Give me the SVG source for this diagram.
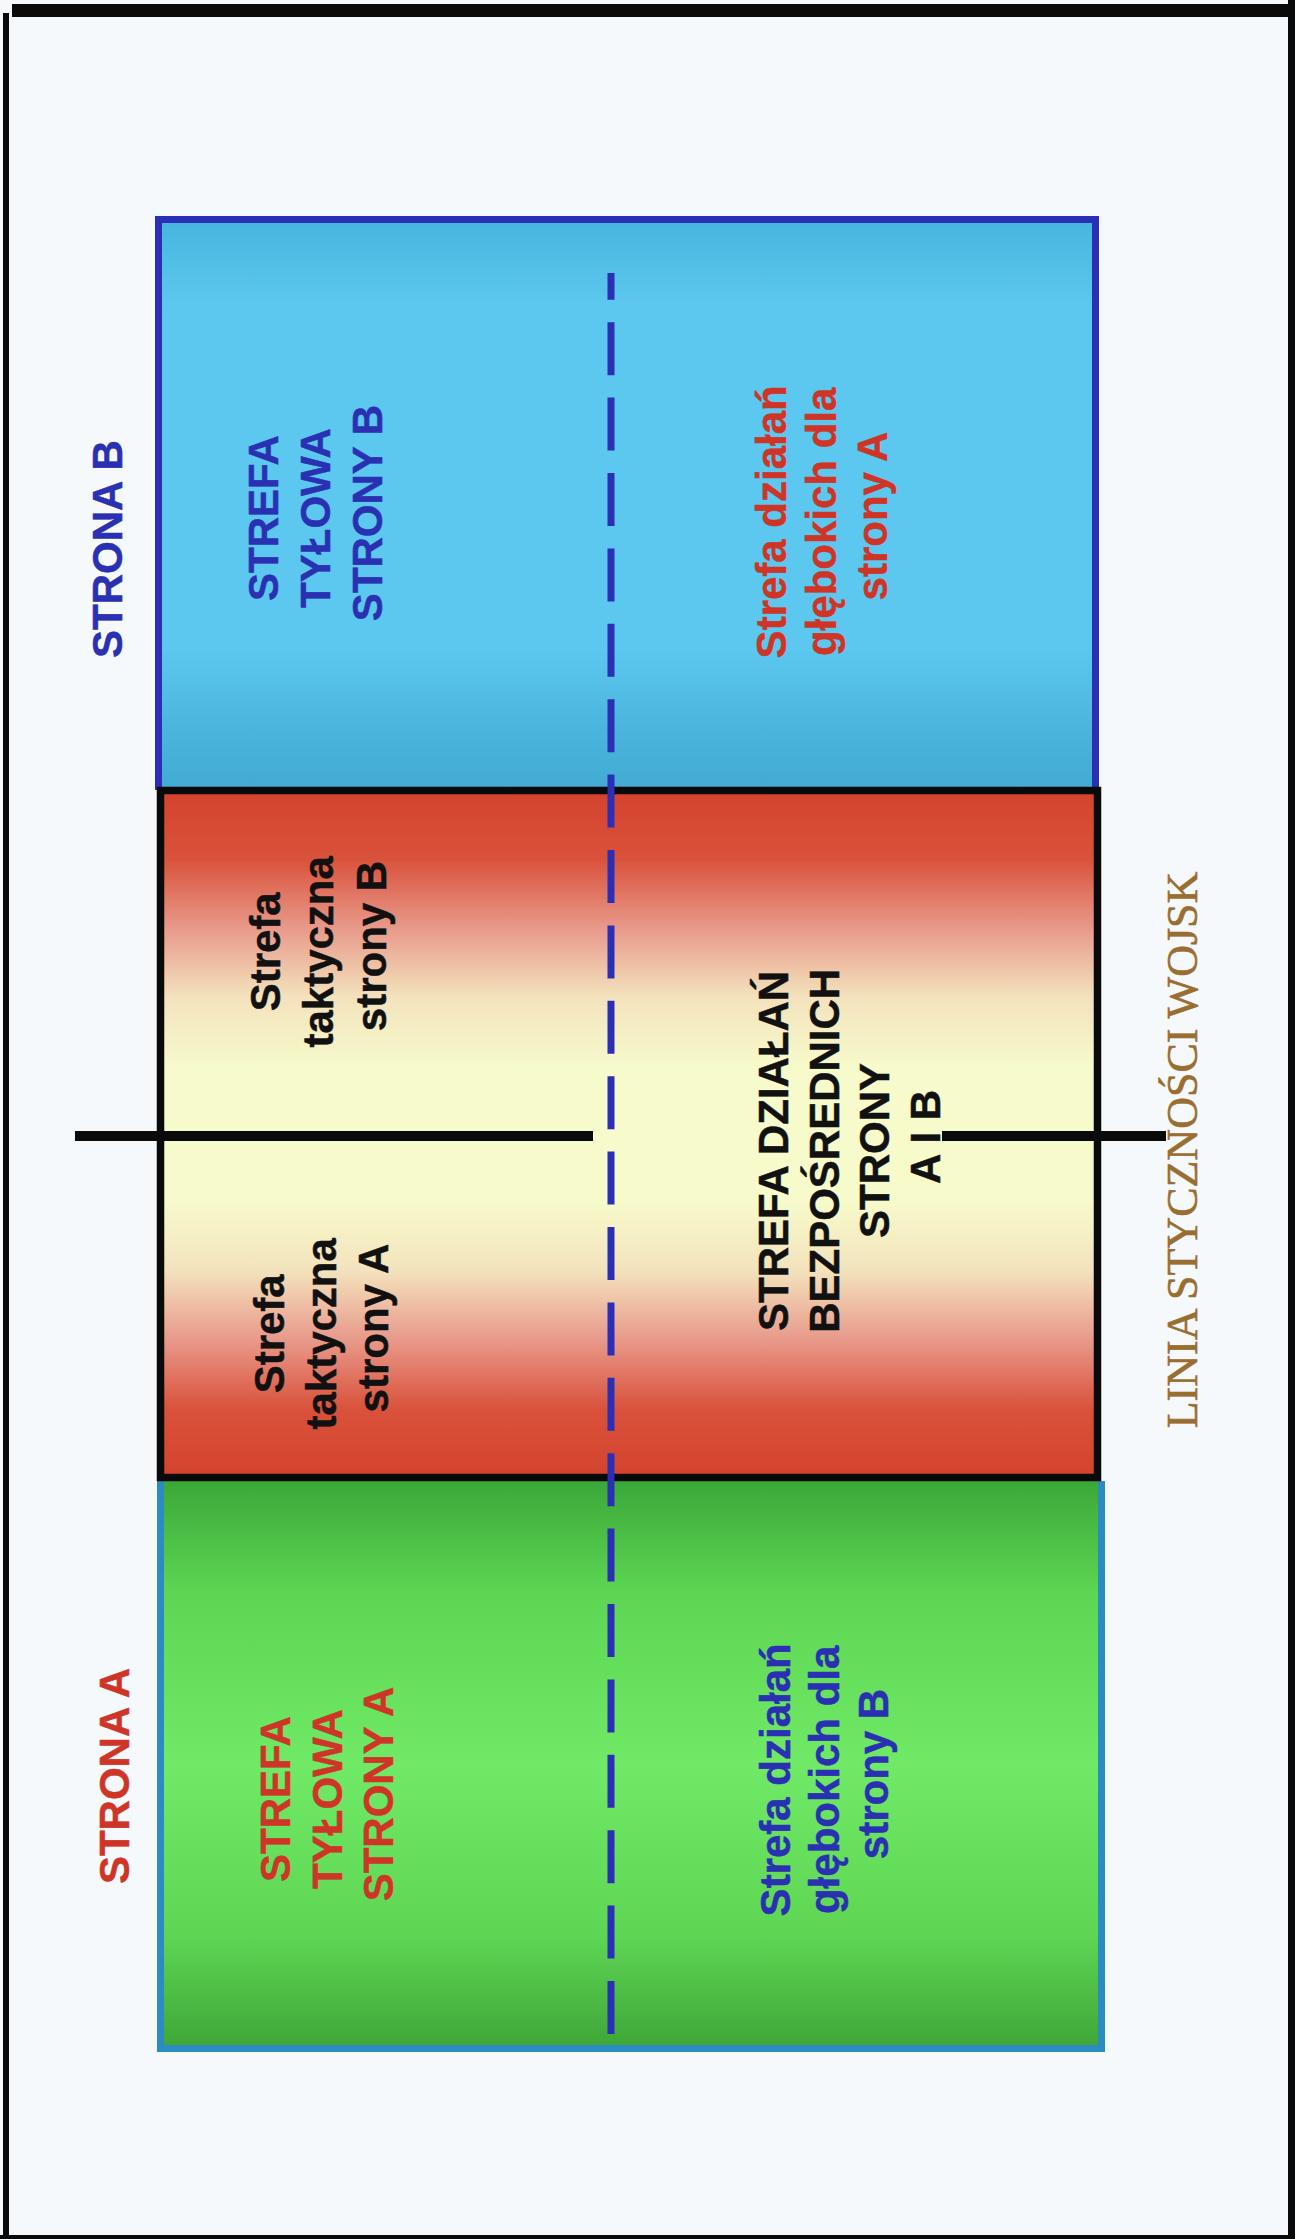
<svg xmlns="http://www.w3.org/2000/svg" width="1295" height="2239" viewBox="0 0 1295 2239">
  <style>
    .lbl { font-family: "Liberation Sans", Arial, sans-serif; font-weight: bold; font-size: 42px; text-anchor: middle; stroke-width: 0.5px; }
    .blue { fill: #2a30b2; stroke: #2a30b2; }
    .red { fill: #cf3527; stroke: #cf3527; }
    .blk { fill: #111111; stroke: #111111; }
    .serif { font-family: "Liberation Serif", "Times New Roman", serif; font-size: 44px; text-anchor: middle; fill: #9a6e30; stroke: #9a6e30; stroke-width: 0.6px; }
  </style>
  <defs>
    <linearGradient id="gBlue" x1="0" y1="0" x2="0" y2="1">
      <stop offset="0" stop-color="#46b5dd"/>
      <stop offset="0.15" stop-color="#5cc8f0"/>
      <stop offset="0.75" stop-color="#5cc8f0"/>
      <stop offset="0.88" stop-color="#4cb6de"/>
      <stop offset="1" stop-color="#42aad3"/>
    </linearGradient>
    <linearGradient id="gMid" x1="0" y1="0" x2="0" y2="1">
      <stop offset="0" stop-color="#d5422d"/>
      <stop offset="0.10" stop-color="#d9523b"/>
      <stop offset="0.20" stop-color="#e8998a"/>
      <stop offset="0.30" stop-color="#f3e2bc"/>
      <stop offset="0.40" stop-color="#f7facb"/>
      <stop offset="0.60" stop-color="#f7facb"/>
      <stop offset="0.70" stop-color="#f3e2bc"/>
      <stop offset="0.80" stop-color="#e8998a"/>
      <stop offset="0.90" stop-color="#d9523b"/>
      <stop offset="1" stop-color="#d5422d"/>
    </linearGradient>
    <linearGradient id="gGreen" x1="0" y1="0" x2="0" y2="1">
      <stop offset="0" stop-color="#3ba838"/>
      <stop offset="0.2" stop-color="#5ed654"/>
      <stop offset="0.5" stop-color="#6fe966"/>
      <stop offset="0.8" stop-color="#5ed654"/>
      <stop offset="1" stop-color="#3ea636"/>
    </linearGradient>
  </defs>

  <!-- page -->
  <rect x="0" y="0" width="1295" height="2239" fill="#f6f9fc"/>
  <g id="page-frame" fill="#0a0a0a">
    <rect x="12" y="4" width="1283" height="13"/>
    <rect x="3" y="13" width="6" height="2226"/>
    <rect x="1288" y="0" width="7" height="2239"/>
    <rect x="0" y="2235" width="1295" height="4"/>
  </g>

  <!-- zones -->
  <g id="zone-rear-b">
    <rect x="158.5" y="219.5" width="937" height="571" fill="url(#gBlue)"/>
    <path d="M158.5,790 V219.5 H1095.5 V790" fill="none" stroke="#2a2fb5" stroke-width="7"/>
  </g>
  <g id="zone-green-a">
    <rect x="160.5" y="1481" width="941" height="567.5" fill="url(#gGreen)"/>
    <path d="M160.5,1481 V2048.5 H1101.5 V1481" fill="none" stroke="#2b8cc4" stroke-width="7"/>
  </g>
  <g id="zone-middle">
    <rect x="160.5" y="790.5" width="937" height="687" fill="url(#gMid)" stroke="#0a0a0a" stroke-width="7.5"/>
  </g>

  <!-- connectors -->
  <g id="connectors">
    <line x1="611" y1="2034" x2="611" y2="273" stroke="#2a2fb5" stroke-width="7" stroke-dasharray="53 22.4"/>
    <line x1="75" y1="1136" x2="593" y2="1136" stroke="#0a0a0a" stroke-width="10"/>
    <line x1="942" y1="1136" x2="1166" y2="1136" stroke="#0a0a0a" stroke-width="10"/>
  </g>

  <!-- labels -->
  <g id="label-strona-b">
    <text class="lbl blue" transform="translate(0,549) rotate(-90)" x="0" y="122">STRONA B</text>
  </g>
  <g id="label-rear-b">
    <text class="lbl blue" transform="translate(0,513) rotate(-90)">
      <tspan x="0" y="278">STREFA</tspan>
      <tspan x="0" y="330">TYŁOWA</tspan>
      <tspan x="0" y="382">STRONY B</tspan>
    </text>
  </g>
  <g id="label-deep-a">
    <text class="lbl red" transform="translate(0,516) rotate(-90)">
      <tspan x="0" y="786">Strefa działań</tspan>
      <tspan x="0" y="836">głębokich dla</tspan>
      <tspan x="0" y="887">strony A</tspan>
    </text>
  </g>
  <g id="label-tactical-b">
    <text class="lbl blk" transform="translate(0,946) rotate(-90)">
      <tspan x="0" y="280">Strefa</tspan>
      <tspan x="0" y="333">taktyczna</tspan>
      <tspan x="0" y="386">strony B</tspan>
    </text>
  </g>
  <g id="label-tactical-a">
    <text class="lbl blk" transform="translate(0,1328) rotate(-90)">
      <tspan x="0" y="284">Strefa</tspan>
      <tspan x="0" y="336">taktyczna</tspan>
      <tspan x="0" y="388">strony A</tspan>
    </text>
  </g>
  <g id="label-direct">
    <text class="lbl blk" transform="translate(0,1145) rotate(-90)">
      <tspan x="0" y="788">STREFA DZIAŁAŃ</tspan>
      <tspan x="0" y="839">BEZPOŚREDNICH</tspan>
      <tspan x="0" y="889">STRONY</tspan>
      <tspan x="8" y="940">A I B</tspan>
    </text>
  </g>
  <g id="label-contact-line">
    <text class="serif" transform="translate(0,1150) rotate(-90)" x="0" y="1197">LINIA STYCZNOŚCI WOJSK</text>
  </g>
  <g id="label-strona-a">
    <text class="lbl red" transform="translate(0,1776) rotate(-90)" x="0" y="129">STRONA A</text>
  </g>
  <g id="label-rear-a">
    <text class="lbl red" transform="translate(0,1794) rotate(-90)">
      <tspan x="0" y="290">STREFA</tspan>
      <tspan x="0" y="342">TYŁOWA</tspan>
      <tspan x="0" y="393">STRONY A</tspan>
    </text>
  </g>
  <g id="label-deep-b">
    <text class="lbl blue" transform="translate(0,1774) rotate(-90)">
      <tspan x="0" y="790">Strefa działań</tspan>
      <tspan x="0" y="839">głębokich dla</tspan>
      <tspan x="0" y="888">strony B</tspan>
    </text>
  </g>
</svg>
